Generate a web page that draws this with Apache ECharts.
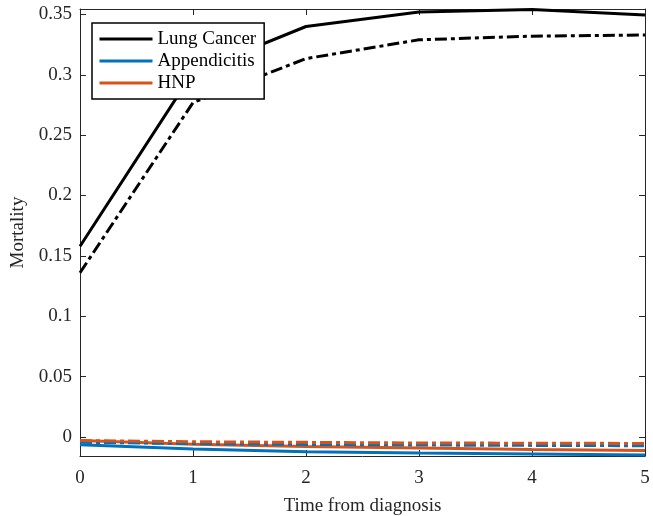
<!DOCTYPE html>
<html>
<head>
<meta charset="utf-8">
<script src="https://cdn.jsdelivr.net/npm/echarts@6/dist/echarts.min.js"></script>
<style>
  html, body { margin: 0; padding: 0; background: #ffffff; }
  #chart { width: 653px; height: 516px; }
</style>
</head>
<body>
<div id="chart"></div>
<script>
// Time points (years from diagnosis)
const times = [0, 1, 2, 3, 4, 5];

// Mortality estimates — solid lines
const lungCancer   = [0.158, 0.302, 0.340, 0.352, 0.354, 0.3495];
const appendicitis = [-0.0065, -0.0100, -0.0122, -0.0133, -0.0142, -0.0150];
const hnp          = [-0.0030, -0.0060, -0.0080, -0.0092, -0.0104, -0.0112];

// Mortality estimates — dash-dot lines
const lungCancerAlt   = [0.136, 0.277, 0.3134, 0.329, 0.332, 0.333];
const appendicitisAlt = [-0.0045, -0.0055, -0.0062, -0.0067, -0.0070, -0.0073];
const hnpAlt          = [-0.0030, -0.0040, -0.0045, -0.0050, -0.0052, -0.0054];

const yTicks = [0, 0.05, 0.1, 0.15, 0.2, 0.25, 0.3, 0.35];
const xTicks = [0, 1, 2, 3, 4, 5];

const FONT = 'Liberation Serif';
const AXIS_COLOR = '#262626';
const BLUE = '#0072BD';
const ORANGE = '#D95319';
const DASH_DOT = [12, 4, 4, 4];

const pairs = (vals) => times.map((t, i) => [t, vals[i]]);

function lineSeries(name, vals, color, width, dashed) {
  return {
    name: name,
    type: 'line',
    data: pairs(vals),
    symbol: 'none',
    clip: false,
    lineStyle: { color: color, width: width, type: dashed ? DASH_DOT : 'solid' },
    itemStyle: { color: color },
    z: dashed ? 3 : 2
  };
}

const yLabelFmt = (v) => String(Math.round(v * 100) / 100);

const chart = echarts.init(document.getElementById('chart'), null, { renderer: 'canvas' });

chart.setOption({
  animation: false,
  backgroundColor: '#ffffff',
  textStyle: { fontFamily: FONT },
  grid: { left: 80, right: 8, top: 9, bottom: 60, containLabel: false, outerBoundsMode: 'none' },
  legend: {
    data: ['Lung Cancer', 'Appendicitis', 'HNP'],
    orient: 'vertical',
    left: 92,
    top: 23,
    padding: [6.5, 8, 6.5, 6],
    itemWidth: 53,
    itemHeight: 18,
    itemGap: 3,
    backgroundColor: '#ffffff',
    borderColor: '#000000',
    borderWidth: 1.5,
    borderRadius: 0,
    textStyle: { fontFamily: FONT, fontSize: 19, color: '#000000' },
    itemStyle: { opacity: 0 },
    lineStyle: { width: 3 }
  },
  xAxis: [{
    type: 'value',
    min: 0, max: 5, interval: 1,
    name: 'Time from diagnosis',
    nameLocation: 'middle',
    nameGap: 41,
    nameTextStyle: { fontFamily: FONT, fontSize: 19, color: AXIS_COLOR },
    axisLine: { show: true, onZero: false, lineStyle: { color: AXIS_COLOR, width: 1 } },
    axisTick: { show: true, inside: true, length: 6, lineStyle: { color: AXIS_COLOR } },
    axisLabel: { margin: 13, fontFamily: FONT, fontSize: 19, color: AXIS_COLOR, customValues: xTicks },
    splitLine: { show: false }
  }, {
    type: 'value',
    position: 'top',
    min: 0, max: 5, interval: 1,
    axisLine: { show: true, onZero: false, lineStyle: { color: AXIS_COLOR, width: 1 } },
    axisTick: { show: true, inside: true, length: 6, lineStyle: { color: AXIS_COLOR } },
    axisLabel: { show: false },
    splitLine: { show: false }
  }],
  yAxis: [{
    type: 'value',
    min: -0.0158, max: 0.3545,
    name: 'Mortality',
    nameLocation: 'middle',
    nameGap: 46,
    nameTextStyle: { fontFamily: FONT, fontSize: 19, color: AXIS_COLOR },
    axisLine: { show: true, onZero: false, lineStyle: { color: AXIS_COLOR, width: 1 } },
    axisTick: { show: true, inside: true, length: 6, customValues: yTicks, lineStyle: { color: AXIS_COLOR } },
    axisLabel: { margin: 8, fontFamily: FONT, fontSize: 19, color: AXIS_COLOR, customValues: yTicks, formatter: yLabelFmt },
    splitLine: { show: false }
  }, {
    type: 'value',
    position: 'right',
    min: -0.0158, max: 0.3545,
    axisLine: { show: true, onZero: false, lineStyle: { color: AXIS_COLOR, width: 1 } },
    axisTick: { show: true, inside: true, length: 6, customValues: yTicks, lineStyle: { color: AXIS_COLOR } },
    axisLabel: { show: false, customValues: yTicks },
    splitLine: { show: false }
  }],
  series: [
    lineSeries('Lung Cancer', lungCancer, '#000000', 3, false),
    lineSeries('Appendicitis', appendicitis, BLUE, 3, false),
    lineSeries('HNP', hnp, ORANGE, 3, false),
    lineSeries('Lung Cancer (alt)', lungCancerAlt, '#000000', 3, true),
    lineSeries('Appendicitis (alt)', appendicitisAlt, BLUE, 3, true),
    lineSeries('HNP (alt)', hnpAlt, ORANGE, 3, true)
  ]
});
</script>
</body>
</html>
